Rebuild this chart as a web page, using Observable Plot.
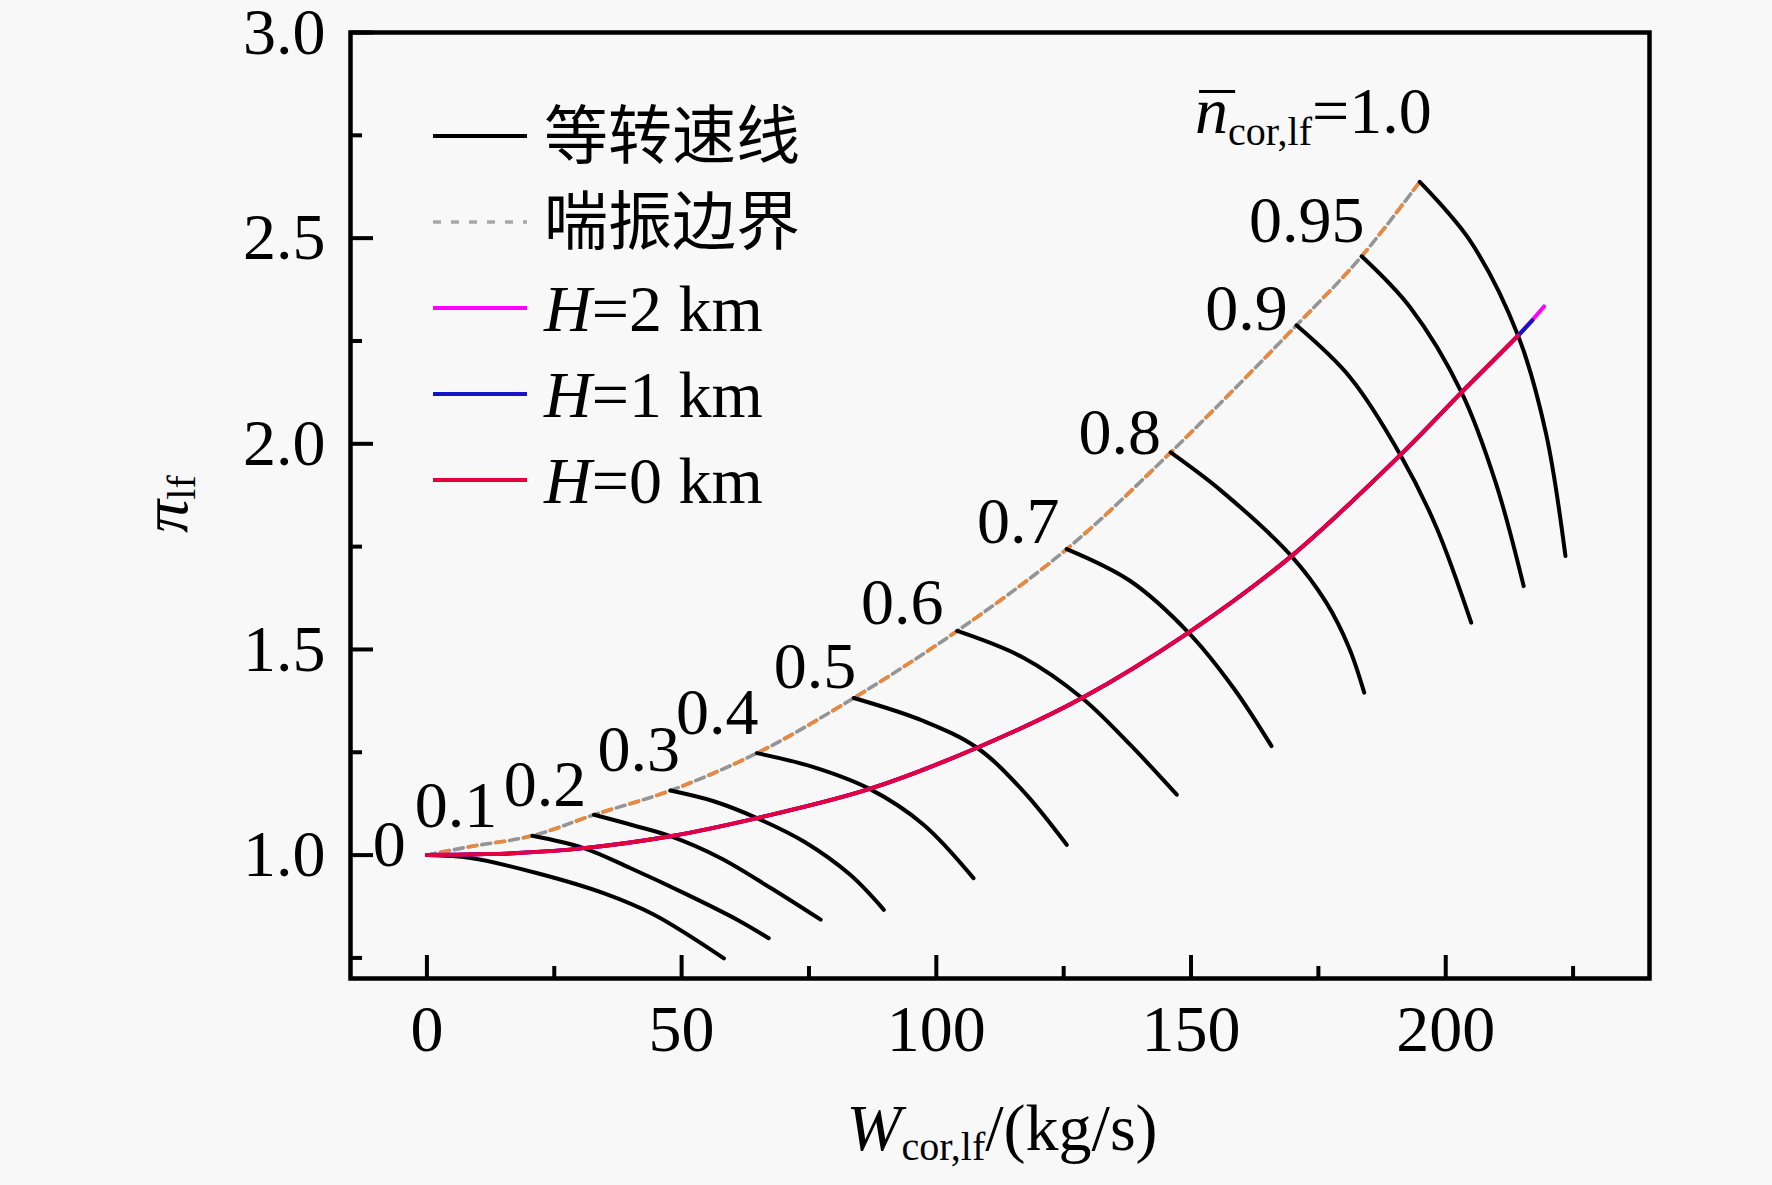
<!DOCTYPE html>
<html><head><meta charset="utf-8">
<script src="https://cdn.jsdelivr.net/npm/d3@7"></script>
<script src="https://cdn.jsdelivr.net/npm/@observablehq/plot@0.6"></script>
<style>
html,body{margin:0;padding:0;background:#f8f8f8;}
#chart{width:1772px;height:1185px;}
</style></head><body><div id="chart"></div>
<script>
// ---- data ----
const speedLabels = ["0","0.1","0.2","0.3","0.4","0.5","0.6","0.7","0.8","0.9","0.95"];
const labelW  = [-7.4, 5.7, 23.2, 41.6, 57.0, 76.2, 93.3, 116.1, 136.0, 160.9, 172.7];
const labelPi = [1.025, 1.119, 1.171, 1.257, 1.346, 1.457, 1.614, 1.809, 2.026, 2.328, 2.543];
const topLabelText = "=1.0";
const topLabelW = 150.8;
const topLabelPi = 2.806;

const isoW = [
  [0, 8.6, 21.7, 34.8, 44.6, 58.3],
  [20.7, 30.8, 40.0, 51.1, 60.9, 67.1],
  [32.8, 40.6, 47.8, 57.6, 67.5, 77.3],
  [47.8, 56.3, 64.8, 74.0, 83.1, 89.7],
  [64.8, 75.9, 86.9, 97.5, 107.3],
  [83.8, 97.5, 108.0, 117.1, 125.6],
  [104.1, 117.1, 128.6, 138.0, 147.2],
  [125.6, 138.0, 149.5, 158.3, 165.8],
  [146.0, 156.0, 169.7, 176.5, 181.0, 184.0],
  [170.7, 181.2, 191.1, 198.2, 205.0],
  [183.5, 193.0, 203.1, 209.9, 215.3],
  [194.9, 204.7, 214.2, 219.7, 223.5]
];
const isoPi = [
  [1.000, 0.993, 0.956, 0.907, 0.855, 0.749],
  [1.047, 1.017, 0.968, 0.904, 0.843, 0.798],
  [1.098, 1.072, 1.046, 0.993, 0.920, 0.843],
  [1.157, 1.131, 1.090, 1.033, 0.952, 0.867],
  [1.248, 1.214, 1.161, 1.074, 0.944],
  [1.382, 1.326, 1.261, 1.155, 1.025],
  [1.545, 1.480, 1.382, 1.269, 1.147],
  [1.744, 1.667, 1.541, 1.407, 1.265],
  [1.979, 1.885, 1.727, 1.615, 1.505, 1.395],
  [2.288, 2.162, 1.973, 1.796, 1.565],
  [2.456, 2.332, 2.125, 1.902, 1.654],
  [2.637, 2.495, 2.263, 2.024, 1.727]
];

const surgeW  = [0, 8.6, 20.7, 32.8, 47.8, 64.8, 83.8, 104.1, 125.6, 146.0, 170.7, 183.5, 194.9];
const surgePi = [1.000, 1.021, 1.047, 1.098, 1.157, 1.248, 1.382, 1.545, 1.744, 1.979, 2.288, 2.456, 2.637];

const h0W  = [0, 10, 17.8, 30.8, 47.8, 64.8, 86.9, 108.0, 128.6, 149.5, 169.7, 191.1, 203.1, 214.2];
const h0Pi = [1.000, 1.002, 1.005, 1.017, 1.046, 1.090, 1.161, 1.261, 1.382, 1.541, 1.727, 1.973, 2.125, 2.263];
const h1W  = [0, 10, 17.8, 30.8, 47.8, 64.8, 86.9, 108.0, 128.6, 149.5, 169.7, 191.1, 203.1, 214.2, 217.0];
const h1Pi = [1.000, 1.002, 1.005, 1.017, 1.046, 1.090, 1.161, 1.261, 1.382, 1.541, 1.727, 1.973, 2.125, 2.263, 2.300];
const h2W  = [0, 10, 17.8, 30.8, 47.8, 64.8, 86.9, 108.0, 128.6, 149.5, 169.7, 191.1, 203.1, 214.2, 219.3];
const h2Pi = [1.000, 1.002, 1.005, 1.017, 1.046, 1.090, 1.161, 1.261, 1.382, 1.541, 1.727, 1.973, 2.125, 2.263, 2.334];

const xMajor = [0, 50, 100, 150, 200];
const xMinor = [25, 75, 125, 175, 225];
const yMajor = [1.0, 1.5, 2.0, 2.5, 3.0];
const yMinor = [0.75, 1.25, 1.75, 2.25, 2.75];

const legendItems = ["等转速线", "喘振边界", "H=2 km", "H=1 km", "H=0 km"];

// ---- build tables ----
const isoRows = [];
isoW.forEach((ws, i) => ws.forEach((w, j) => isoRows.push({line: i, w, pi: isoPi[i][j]})));
const toRows = (W, P) => W.map((w, i) => ({w, pi: P[i]}));
const surge = toRows(surgeW, surgePi);
const h0 = toRows(h0W, h0Pi), h1 = toRows(h1W, h1Pi), h2 = toRows(h2W, h2Pi);
const labels = speedLabels.map((t, i) => ({t, w: labelW[i], pi: labelPi[i]}));

const SERIF = "'Liberation Serif','Times New Roman',serif";
const RED = "#e5003d", BLUE = "#1414c8", MAG = "#ff00ff", GRAY = "#959595", ORANGE = "#e8893f";
const LW = 4;

const plot = Plot.plot({
  width: 1772, height: 1185,
  marginLeft: 350, marginRight: 123, marginTop: 32, marginBottom: 207,
  x: {domain: [-15, 240]},
  y: {domain: [0.7, 3.0]},
  style: {background: "#f8f8f8", fontFamily: SERIF, fontSize: "66px", color: "black"},
  marks: [
    Plot.axisX(xMajor, {tickSize: -23, strokeWidth: 4, tickFormat: () => "", label: null}),
    Plot.axisX(xMinor, {tickSize: -12, strokeWidth: 4, tickFormat: () => "", label: null}),
    Plot.axisX(xMajor, {tickSize: 0, tickPadding: 26, fontSize: 66, label: null, tickFormat: d => String(d)}),
    Plot.axisY(yMajor, {tickSize: -23, strokeWidth: 4, tickFormat: () => "", label: null}),
    Plot.axisY(yMinor, {tickSize: -12, strokeWidth: 4, tickFormat: () => "", label: null}),
    Plot.axisY(yMajor, {tickSize: 0, tickPadding: 25, fontSize: 66, label: null, tickFormat: d3.format(".1f")}),
    Plot.line(surge, {x: "w", y: "pi", stroke: GRAY, strokeWidth: 3.6, strokeDasharray: "9,5", curve: "catmull-rom"}),
    Plot.line(surge, {x: "w", y: "pi", stroke: ORANGE, strokeWidth: 3.6, strokeDasharray: "9,19", strokeDashoffset: 14, curve: "catmull-rom"}),
    Plot.line(isoRows, {x: "w", y: "pi", z: "line", stroke: "black", strokeWidth: LW, curve: "catmull-rom"}),
    Plot.line(h2, {x: "w", y: "pi", stroke: MAG, strokeWidth: LW, curve: "catmull-rom"}),
    Plot.line(h1, {x: "w", y: "pi", stroke: BLUE, strokeWidth: LW, curve: "catmull-rom"}),
    Plot.line(h0, {x: "w", y: "pi", stroke: RED, strokeWidth: LW, curve: "catmull-rom"}),
    Plot.text(labels, {x: "w", y: "pi", text: "t", fontSize: 66, textAnchor: "middle", lineAnchor: "middle", fill: "black"}),
    Plot.text([{w: topLabelW, pi: topLabelPi, t: topLabelText}], {x: "w", y: "pi", text: "t", fontSize: 66, textAnchor: "start", lineAnchor: "middle", fill: "black"}),
    Plot.frame({stroke: "black", strokeWidth: 4.5})
  ]
});
document.getElementById("chart").appendChild(plot);

const svg = d3.select(plot);

// top label: n̄_cor,lf=1.0
{
  const node = svg.selectAll("text").filter(function() { return this.textContent === topLabelText; }).node();
  if (node) {
    const t = d3.select(node);
    t.text("");
    t.append("tspan").attr("font-style", "italic").text("n");
    t.append("tspan").attr("font-size", 40).attr("dy", 12).text("cor,lf");
    t.append("tspan").attr("font-size", 66).attr("dy", -12).text(topLabelText);
    let bb = null;
    try { bb = node.getBBox(); } catch (e) {}
    if (bb) {
      const yb = bb.y + 17;
      const bar = d3.select(node.parentNode).append("line")
        .attr("x1", bb.x + 4).attr("x2", bb.x + 40)
        .attr("y1", yb).attr("y2", yb)
        .attr("stroke", "black").attr("stroke-width", 3);
      const tr = node.getAttribute("transform");
      if (tr) bar.attr("transform", tr);
    }
  }
}

// axis titles
const ylab = svg.append("text")
  .attr("transform", "translate(187,504) rotate(-90)")
  .attr("text-anchor", "middle")
  .attr("font-family", SERIF).attr("font-size", 66).attr("fill", "black");
ylab.append("tspan").attr("font-style", "italic").text("π");
ylab.append("tspan").attr("font-size", 40).attr("dy", 8).text("lf");

const xlab = svg.append("text")
  .attr("x", 1002).attr("y", 1150)
  .attr("text-anchor", "middle")
  .attr("font-family", SERIF).attr("font-size", 66).attr("fill", "black");
xlab.append("tspan").attr("font-style", "italic").text("W");
xlab.append("tspan").attr("font-size", 40).attr("dy", 10).text("cor,lf");
xlab.append("tspan").attr("dy", -10).text("/(kg/s)");

// legend
const legY = [136, 222, 308, 394, 480];
const legStroke = ["black", GRAY, MAG, BLUE, RED];
const lg = svg.append("g").attr("text-anchor", "start");
legendItems.forEach((name, i) => {
  const y = legY[i];
  const ln = lg.append("line").attr("x1", 433).attr("x2", 527).attr("y1", y).attr("y2", y)
    .attr("stroke", legStroke[i]).attr("stroke-width", 4);
  if (i === 1) ln.attr("stroke-dasharray", "8,10").attr("stroke-width", 3.5).attr("stroke", "#a8a8a8");
  const t = lg.append("text").attr("x", 544).attr("y", y).attr("dy", "0.35em")
    .attr("text-anchor", "start")
    .attr("font-size", 66).attr("fill", "black");
  if (i < 2) {
    t.attr("font-family", "'Noto Sans CJK SC',sans-serif").attr("font-size", 64).text(name);
  } else {
    t.attr("font-family", SERIF);
    t.append("tspan").attr("font-style", "italic").text("H");
    t.append("tspan").text(name.slice(1));
  }
});
</script>
</body></html>
